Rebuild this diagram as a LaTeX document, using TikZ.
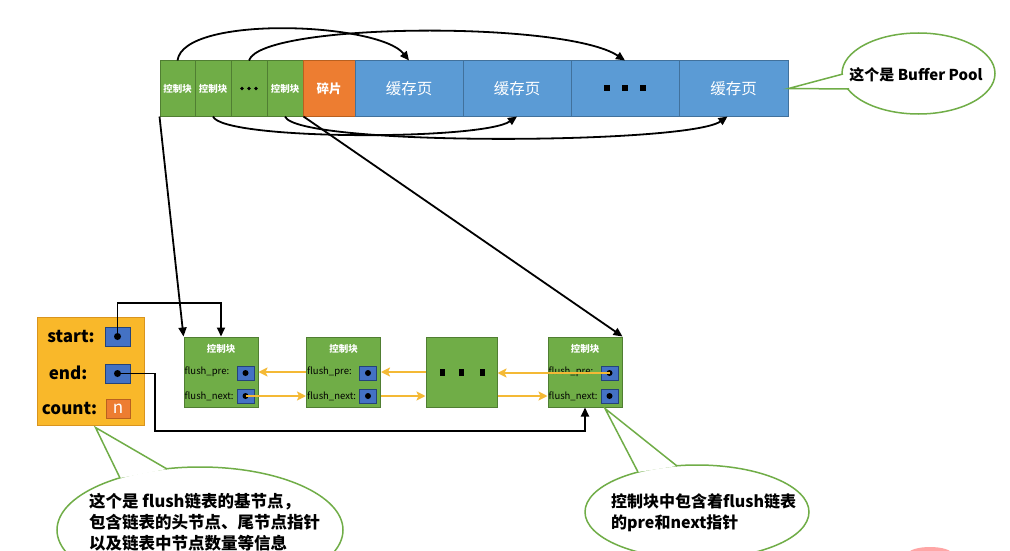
\documentclass[tikz,border=0pt]{standalone}
\usepackage{fontspec}
\setmainfont{Noto Sans CJK SC}
\usetikzlibrary{arrows.meta,shapes.geometric,calc}
\definecolor{gfill}{HTML}{70AD47}
\definecolor{gline}{HTML}{507E32}
\definecolor{bfill}{HTML}{5B9BD5}
\definecolor{bline}{HTML}{41719C}
\definecolor{ofill}{HTML}{ED7D31}
\definecolor{oline}{HTML}{B9601F}
\definecolor{yfill}{HTML}{F9B82A}
\definecolor{yline}{HTML}{D9941E}
\definecolor{pfill}{HTML}{4472C4}
\definecolor{pline}{HTML}{24437A}
\definecolor{yarrow}{HTML}{F4B935}
\definecolor{cgreen}{HTML}{70AD47}
\newcommand\flushblock[2]{%
  \node[blk] (#1) at (#2,372) {};
  \node[btitle] (#1t) at ($(#1.north)+(0,12)$) {控制块};
  \node[flab] (#1pl) at ($(#1.west)+(1,0)$) {flush\_pre:};
  \node[flab] (#1nl) at ($(#1.west)+(1,24)$) {flush\_next:};
  \node[ptr] (#1p) at ($(#1.east)+(-13,1)$) {};
  \node[ptr] (#1n) at ($(#1.east)+(-13,24)$) {};
  \fill (#1p.center) circle (3pt);
  \fill (#1n.center) circle (3pt);
}
\begin{document}
\begin{tikzpicture}[x=1pt,y=-1pt,
  cell/.style={draw, line width=1pt, minimum height=55pt, inner sep=0pt, text=white},
  gcell/.style={cell, fill=gfill, draw=gline, font=\bfseries\fontsize{9.5}{10}\selectfont},
  bcell/.style={cell, fill=bfill, draw=bline, font=\fontsize{15.5}{16}\selectfont, minimum width=108pt},
  ocell/.style={cell, fill=ofill, draw=oline, font=\bfseries\fontsize{12.5}{13}\selectfont, minimum width=52pt},
  blk/.style={draw=gline, fill=gfill, line width=1pt, minimum width=74pt, minimum height=70pt, inner sep=0pt},
  btitle/.style={text=white, font=\bfseries\fontsize{9.5}{10}\selectfont, inner sep=0pt},
  flab/.style={anchor=west, font=\fontsize{9.5}{10}\selectfont, inner sep=0pt},
  ptr/.style={draw=pline, fill=pfill, line width=1pt, minimum width=17pt, minimum height=14pt, inner sep=0pt},
  hlab/.style={font=\bfseries\fontsize{17}{18}\selectfont, inner sep=0pt},
  link/.style={line width=1.8pt, black},
  larrow/.style={link, -{Triangle[length=9pt,width=8pt]}},
  yarr/.style={line width=2.2pt, yarrow, -{Stealth[length=9pt,width=9pt,inset=2pt]}},
  callout/.style={draw=cgreen, line width=1.5pt, fill=white, ellipse, inner sep=0pt},
  ptrline/.style={draw=cgreen, line width=1.5pt, line join=miter},
  ctext/.style={font=\bfseries\fontsize{16}{21}\selectfont, inner sep=0pt, align=left}
]
\useasboundingbox (0,0) rectangle (1010,551);
\clip (0,0) rectangle (1010,551);
\fill[white] (0,0) rectangle (1010,551);

% ---------- Buffer Pool row ----------
\node[gcell, minimum width=35pt] (c1) at (177.5,88.5) {控制块};
\node[gcell, minimum width=36pt] (c2) at (213,88.5) {控制块};
\node[gcell, minimum width=36pt] (cd) at (249,88.5) {};
\node[gcell, minimum width=36pt] (c3) at (285,88.5) {控制块};
\node[ocell] (frag) at (329,88.5) {碎片};
\node[bcell] (p1) at (409,88.5) {缓存页};
\node[bcell] (p2) at (517,88.5) {缓存页};
\node[bcell] (p3) at (625,88.5) {};
\node[bcell, minimum width=109pt] (p4) at (733.5,88.5) {缓存页};
\foreach \dx in {-7,0,7} \fill ($(cd.center)+(\dx,0)$) circle (1.8pt);
\foreach \dx in {-18,0,18} \fill ($(p3.center)+(\dx-3,-3)$) rectangle +(6,6);

% arcs between control blocks and pages
\draw[larrow] (c1.north) .. controls +(6,-46) and +(-30,-38) .. (p1.north);
\draw[larrow] (cd.north) .. controls +(12,-38) and +(-60,-40) .. (p3.north);
\draw[larrow] (c2.south) .. controls +(10,24) and +(-35,24) .. (p2.south);
\coordinate (p4in) at ($(p4.south)+(-6,0)$);
\draw[larrow] (c3.south) .. controls +(12,30) and +(-40,28) .. (p4in);

% ---------- flush list ----------
\flushblock{b1}{221}
\flushblock{b2}{343.5}
\node[blk, minimum width=71pt] (bd) at (461.5,372) {};
\foreach \dx in {-19,0,21} \fill ($(bd.center)+(\dx-2.5,-3.5)$) rectangle +(5,7);
\flushblock{b4}{585}

% links from pool to list
\draw[larrow] (c1.south west) -- (b1.north west);
\draw[larrow] (c3.south east) -- (b4.north east);

% yellow pre / next arrows
\draw[yarr] (b2.west) -- (b1.east);
\draw[yarr] (bd.west) -- (b2.east);
\draw[yarr] (b4p.center) -- (bd.east |- b4p.center);
\draw[yarr] (b1n.center) -- (b2.west |- b1n.center);
\draw[yarr] (b2.east |- b2n.center) -- (bd.west |- b2n.center);
\draw[yarr] (bd.east |- b4n.center) -- (b4.west |- b4n.center);

% ---------- base node ----------
\node[draw=yline, fill=yfill, line width=1pt, minimum width=107pt, minimum height=108pt] (hd) at (90.5,371) {};
\node[hlab] (ls) at (71,336) {start:};
\node[hlab] (le) at (68,373) {end:};
\node[hlab] (lc) at (69.5,408) {count:};
\node[ptr, minimum width=25pt, minimum height=19pt] (ss) at (117.5,336.5) {};
\node[ptr, minimum width=25pt, minimum height=19pt] (es) at (117.5,373.5) {};
\node[draw=oline, fill=ofill, line width=1pt, minimum width=24pt, minimum height=19pt, inner sep=0pt, text=white, font=\fontsize{17}{18}\selectfont] (ns) at (118,408.5) {n};
\fill (ss.center) circle (3.5pt);
\fill (es.center) circle (3.5pt);
\coordinate (s1) at (117.5,303);
\draw[larrow] (ss.center) -- (s1) -| (b1.north);
\coordinate (e1) at (155,431);
\draw[larrow] (es.center) -| (e1) -| (b4.south);

% ---------- callouts ----------
% Buffer Pool
\node[callout, minimum width=153pt, minimum height=81pt] (cb1) at (918.5,73.5) {};
\coordinate (a1) at (843,74);
\coordinate (a2) at (849,89);
\fill[white] (a1) -- (p4.east) -- (a2) -- cycle;
\draw[ptrline] (a1) -- (p4.east) -- (a2);
\node[font=\bfseries\fontsize{15}{16}\selectfont, inner sep=0pt] (t1) at (916,75) {这个是 Buffer Pool};

% base node callout
\node[callout, minimum width=286pt, minimum height=126pt] (cb2) at (200,530) {};
\coordinate (tip2) at ($(hd.south)+(5,2)$);
\coordinate (a3) at (120,478);
\coordinate (a4) at (167,469);
\fill[white] (a3) -- (tip2) -- (a4) -- cycle;
\draw[ptrline] (a3) -- (tip2) -- (a4);
\node[ctext, anchor=west, font=\bfseries\fontsize{16.5}{21}\selectfont] (t2) at (89,522) {这个是 flush链表的基节点，\\包含链表的头节点、尾节点指针\\以及链表中节点数量等信息};

% control block callout
\node[callout, minimum width=224pt, minimum height=94pt] (cb3) at (697,512) {};
\coordinate (tip3) at ($(b4.south)+(20,1)$);
\coordinate (a5) at (638,472);
\coordinate (a6) at (677,466);
\fill[white] (a5) -- (tip3) -- (a6) -- cycle;
\draw[ptrline] (a5) -- (tip3) -- (a6);
\node[ctext, anchor=west] (t3) at (611,512.5) {控制块中包含着flush链表\\的pre和next指针};

% faint mark at lower right
\fill[red!35!white] (930,554) ellipse (22pt and 7pt);
\end{tikzpicture}
\end{document}
